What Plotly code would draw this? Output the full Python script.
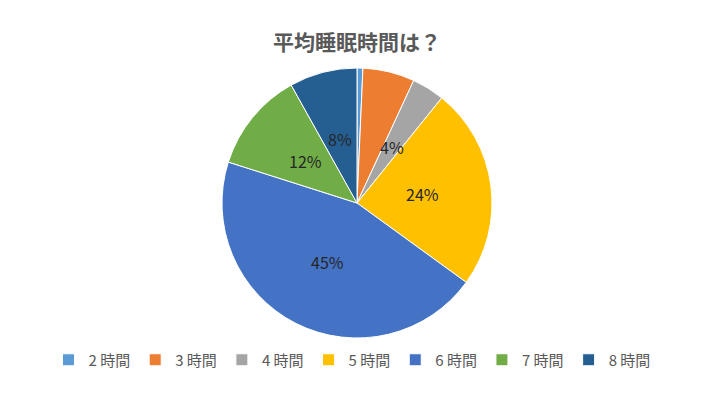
import math
import plotly.graph_objects as go

categories = ["2 時間", "3 時間", "4 時間", "5 時間", "6 時間", "7 時間", "8 時間"]
values = [0.7, 6.2, 3.9, 24.2, 44.9, 12.0, 8.1]
colors = ["#5B9BD5", "#ED7D31", "#A5A5A5", "#FFC000", "#4472C4", "#70AD47", "#255E91"]
show_label = [False, False, True, True, True, True, True]

W, H = 720, 405
cx, cy, R = 357, 203, 135
dom_x = [(cx - R) / W, (cx + R) / W]
dom_y = [(H - cy - R) / H, (H - cy + R) / H]

fig = go.Figure(go.Pie(
    labels=categories,
    values=values,
    sort=False,
    direction="clockwise",
    rotation=0,
    marker=dict(colors=colors, line=dict(color="white", width=1)),
    textinfo="none",
    domain=dict(x=dom_x, y=dom_y),
    hoverinfo="label+percent",
))

# data labels at the slice bisector, about half the radius out (derived from values)
total = sum(values)
cum = 0.0
for v, s in zip(values, show_label):
    mid = (cum + v / 2) / total * 2 * math.pi
    cum += v
    if not s:
        continue
    px = cx + 0.49 * R * math.sin(mid)
    py = cy - 0.49 * R * math.cos(mid)
    fig.add_annotation(
        x=px / W, y=1 - py / H, xref="paper", yref="paper",
        text=f"{round(v / total * 100)}%", showarrow=False,
        font=dict(family="Noto Sans CJK JP, Noto Sans", size=16, color="#262626"),
    )

fig.update_layout(
    width=W, height=H,
    margin=dict(l=0, r=0, t=0, b=0),
    paper_bgcolor="white",
    plot_bgcolor="white",
    title=dict(
        text="<b>平均睡眠時間は？</b>",
        x=357 / W, xanchor="center", y=1 - 43 / H, yanchor="middle",
        font=dict(family="Noto Sans CJK JP", size=21, color="#595959"),
    ),
    legend=dict(
        orientation="h", x=352 / W, xanchor="center", y=1 - 360 / H, yanchor="middle",
        font=dict(family="Noto Sans CJK JP, Noto Sans", size=15, color="#595959"),
        itemwidth=30, tracegroupgap=0,
    ),
)

fig.write_html("out.html")
